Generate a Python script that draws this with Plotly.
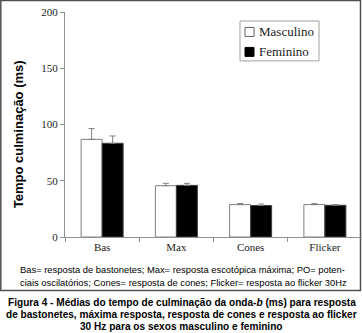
import plotly.graph_objects as go

categories = ["Bas", "Max", "Cones", "Flicker"]
masc = [86.8, 45.6, 28.8, 28.8]
masc_err = [9.6, 2.1, 1.0, 0.9]
fem = [83.3, 45.9, 28.0, 28.2]
fem_err = [6.5, 1.8, 1.3, 0.6]
series_names = ["Masculino", "Feminino"]
y_ticks = [0, 50, 100, 150, 200]

W, H = 362, 333
L, R, T, B = 65, 362, 12, 237.5

def px(x):
    return (x - L) / (R - L)

def py(y):
    return (B - y) / (B - T)

SERIF = "Liberation Serif, Times New Roman, serif"
SANS = "Liberation Sans, Arial, sans-serif"

fig = go.Figure()
fig.add_trace(go.Bar(
    x=categories, y=masc, name=series_names[0],
    marker=dict(color="white", line=dict(color="#808080", width=1)),
    error_y=dict(type="data", array=masc_err, symmetric=False, arrayminus=[0]*4,
                 color="#808080", thickness=1, width=3),
    showlegend=False,
))
fig.add_trace(go.Bar(
    x=categories, y=fem, name=series_names[1],
    marker=dict(color="black", line=dict(color="#404040", width=1)),
    error_y=dict(type="data", array=fem_err, symmetric=False, arrayminus=[0]*4,
                 color="#808080", thickness=1, width=3),
    showlegend=False,
))

shapes = []
annotations = []
# outer box
shapes.append(dict(type="rect", xref="paper", yref="paper",
                   x0=px(0.8), x1=px(360.5), y0=py(291), y1=py(0.5),
                   line=dict(color="#505050", width=1.5), layer="below"))
# legend box
shapes.append(dict(type="rect", xref="paper", yref="paper",
                   x0=px(240), x1=px(319), y0=py(61), y1=py(21),
                   line=dict(color="#a0a0a0", width=1), fillcolor="white"))
# legend swatches
shapes.append(dict(type="rect", xref="paper", yref="paper",
                   x0=px(245), x1=px(254), y0=py(36.5), y1=py(27.5),
                   line=dict(color="#606060", width=1), fillcolor="white"))
shapes.append(dict(type="rect", xref="paper", yref="paper",
                   x0=px(245), x1=px(254), y0=py(56.5), y1=py(47.5),
                   line=dict(color="black", width=1), fillcolor="black"))
for name, yy in zip(series_names, [32, 52]):
    annotations.append(dict(text=name, xref="paper", yref="paper", x=px(256.5), y=py(yy),
                            xanchor="left", yanchor="middle", showarrow=False,
                            font=dict(family=SERIF, size=13, color="#222")))

# y-axis title
annotations.append(dict(text="<b>Tempo culminação (ms)</b>", xref="paper", yref="paper",
                        x=px(18.5), y=py(135), xanchor="center", yanchor="middle",
                        textangle=-90, showarrow=False,
                        font=dict(family=SANS, size=13, color="black")))

# note
note_lines = ["Bas= resposta de bastonetes; Max= resposta escotópica máxima; PO= poten-",
              "ciais oscilatórios; Cones= resposta de cones; Flicker= resposta ao flicker 30Hz"]
for line, yy in zip(note_lines, [270, 283]):
    annotations.append(dict(text=line, xref="paper", yref="paper", x=px(18), y=py(yy),
                            xanchor="left", yanchor="middle", showarrow=False,
                            font=dict(family=SANS, size=9.4, color="black")))

caption_lines = ["<b>Figura 4 - Médias do tempo de culminação da onda-<i>b</i> (ms) para resposta</b>",
                 "<b>de bastonetes, máxima resposta, resposta de cones e resposta ao flicker</b>",
                 "<b>30 Hz para os sexos masculino e feminino</b>"]
for line, yy in zip(caption_lines, [303, 315, 327]):
    annotations.append(dict(text=line, xref="paper", yref="paper", x=px(181.5), y=py(yy),
                            xanchor="center", yanchor="middle", showarrow=False,
                            font=dict(family=SANS, size=10.1, color="black")))

fig.update_layout(
    width=W, height=H,
    margin=dict(l=L, r=W - R, t=T, b=H - B, pad=0),
    paper_bgcolor="white", plot_bgcolor="white",
    barmode="group", bargap=0.434, bargroupgap=0,
    shapes=shapes, annotations=annotations,
    xaxis=dict(showline=True, linecolor="#909090", linewidth=1, ticks="outside",
               tickson="boundaries", ticklen=4, tickcolor="#909090",
               tickfont=dict(family=SERIF, size=11, color="#222"), showgrid=False),
    yaxis=dict(range=[0, 200], tickvals=y_ticks, showline=True, linecolor="#909090",
               linewidth=1, ticks="outside", ticklen=4, tickcolor="#909090",
               tickfont=dict(family=SERIF, size=11, color="#222"), showgrid=False,
               zeroline=False),
)
fig.write_html("out.html")
